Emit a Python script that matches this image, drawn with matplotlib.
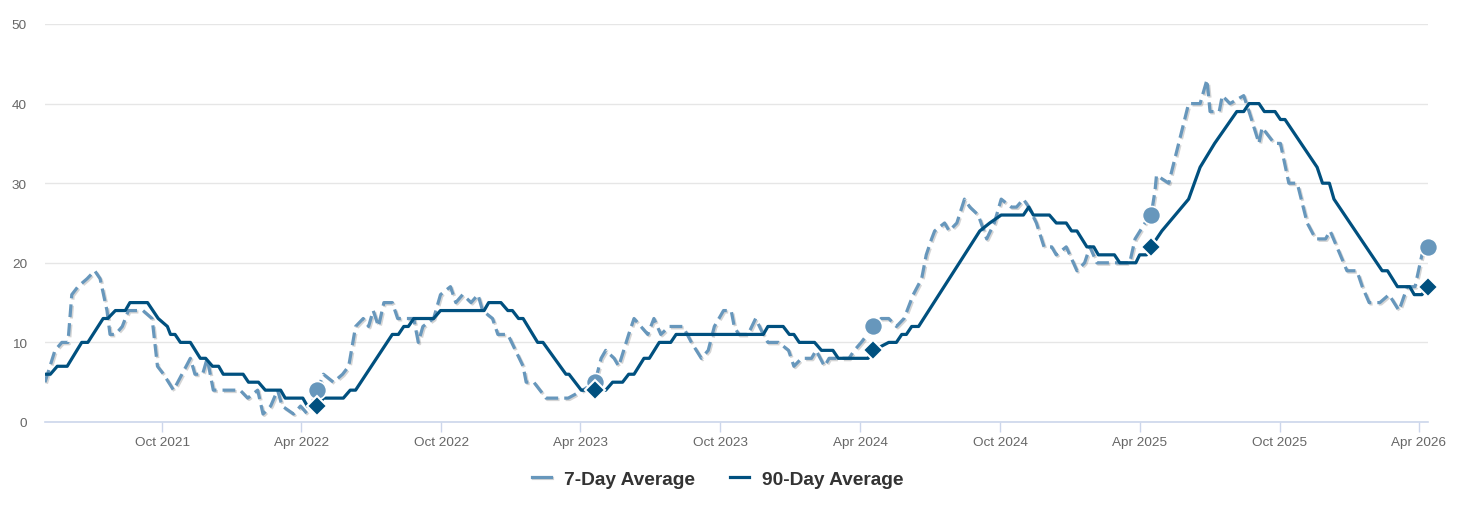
import matplotlib
matplotlib.use("Agg")
import matplotlib.pyplot as plt
import matplotlib.dates as mdates
import matplotlib.patheffects as pe
import pandas as pd

plt.rcParams['font.family'] = ['Liberation Sans', 'DejaVu Sans']

# days counted from START
START = pd.Timestamp('2021-05-01')

days_90 = [0, 7, 16, 29, 48, 56, 76, 82, 92, 105,
           111, 134, 148, 160, 164, 170, 177, 190, 203, 210,
           219, 227, 233, 259, 266, 279, 288, 308, 314, 337,
           343, 356, 364, 390, 399, 406, 454, 462, 469, 475,
           482, 508, 517, 574, 580, 596, 605, 611, 619, 625,
           644, 651, 681, 685, 701, 719, 733, 742, 755, 763,
           770, 783, 790, 803, 818, 825, 939, 945, 965, 973,
           979, 986, 1006, 1015, 1030, 1037, 1076, 1083, 1103, 1113,
           1120, 1126, 1133, 1142, 1222, 1235, 1250, 1279, 1286, 1292,
           1313, 1322, 1335, 1342, 1349, 1362, 1371, 1377, 1398, 1405,
           1426, 1431, 1440, 1446, 1460, 1495, 1510, 1529, 1558, 1567,
           1574, 1587, 1594, 1608, 1615, 1621, 1663, 1670, 1679, 1685,
           1748, 1755, 1768, 1784, 1790, 1800, 1808]
avg_90 = [6, 6, 7, 7, 10, 10, 13, 13, 14, 14,
          15, 15, 13, 12, 11, 11, 10, 10, 8, 8,
          7, 7, 6, 6, 5, 5, 4, 4, 3, 3,
          2, 2, 3, 3, 4, 4, 11, 11, 12, 12,
          13, 13, 14, 14, 15, 15, 14, 14, 13, 13,
          10, 10, 6, 6, 4, 4, 4, 5, 5, 6,
          6, 8, 8, 10, 10, 11, 11, 12, 12, 11,
          11, 10, 10, 9, 9, 8, 8, 9, 10, 10,
          11, 11, 12, 12, 24, 25, 26, 26, 27, 26,
          26, 25, 25, 24, 24, 22, 22, 21, 21, 20,
          20, 21, 21, 22, 24, 28, 32, 35, 39, 39,
          40, 40, 39, 39, 38, 38, 32, 30, 30, 28,
          19, 19, 17, 17, 16, 16, 17]

days_7 = [0, 13, 22, 30, 35, 43, 55, 65, 72, 81,
          85, 92, 101, 109, 120, 128, 140, 147, 155, 168,
          179, 190, 196, 206, 212, 220, 236, 255, 265, 278,
          285, 295, 304, 310, 325, 334, 343, 356, 364, 377,
          389, 397, 406, 416, 423, 429, 436, 443, 454, 461,
          482, 488, 494, 508, 517, 530, 537, 546, 557, 566,
          572, 585, 592, 605, 625, 629, 639, 655, 684, 703,
          719, 727, 733, 744, 750, 763, 770, 779, 788, 796,
          805, 816, 828, 834, 845, 858, 867, 875, 887, 897,
          901, 907, 919, 929, 939, 945, 959, 972, 979, 989,
          1002, 1008, 1019, 1025, 1051, 1058, 1067, 1083, 1093, 1103,
          1113, 1123, 1135, 1146, 1152, 1159, 1163, 1176, 1182, 1192,
          1202, 1209, 1220, 1231, 1241, 1250, 1263, 1270, 1279, 1286,
          1296, 1306, 1316, 1322, 1335, 1349, 1359, 1366, 1375, 1397,
          1418, 1425, 1438, 1446, 1451, 1453, 1469, 1495, 1510, 1519,
          1523, 1535, 1539, 1549, 1567, 1574, 1587, 1591, 1607, 1615,
          1626, 1637, 1650, 1661, 1674, 1680, 1702, 1715, 1722, 1731,
          1745, 1757, 1770, 1781, 1791, 1800, 1808]
avg_7 = [5, 9, 10, 10, 16, 17, 18, 19, 18, 14,
         11, 11, 12, 14, 14, 14, 13, 7, 6, 4,
         6, 8, 6, 6, 8, 4, 4, 4, 3, 4,
         1, 2, 4, 2, 1, 2, 1, 4, 6, 5,
         6, 7, 12, 13, 12, 14, 12, 15, 15, 13,
         13, 10, 12, 13, 16, 17, 15, 16, 15, 16,
         14, 13, 11, 11, 7, 5, 5, 3, 3, 4,
         5, 8, 9, 8, 7, 11, 13, 12, 11, 13,
         11, 12, 12, 12, 10, 8, 9, 12, 14, 14,
         12, 11, 11, 13, 11, 10, 10, 9, 7, 8,
         8, 9, 7, 8, 8, 9, 10, 12, 13, 13,
         12, 13, 16, 18, 21, 23, 24, 25, 24, 25,
         28, 27, 26, 23, 25, 28, 27, 27, 28, 27,
         25, 22, 22, 21, 22, 19, 20, 22, 20, 20,
         20, 23, 25, 26, 29, 31, 30, 40, 40, 43,
         39, 39, 41, 40, 41, 39, 35, 37, 35, 35,
         30, 30, 25, 23, 23, 24, 19, 19, 17, 15,
         15, 16, 14, 17, 17, 21, 22]

marker_days = [356, 719, 1083, 1446, 1808]
marker_7 = [4, 5, 12, 26, 22]
marker_90 = [2, 4, 9, 22, 17]

LIGHT = '#6797bc'
DARK = '#00507f'


def to_dates(days):
    return START + pd.to_timedelta(days, unit='D')


fig = plt.figure(figsize=(14.71, 5.10), dpi=100)
ax = fig.add_axes([0.0306, 0.1706, 0.9402, 0.7804])

ax.plot(to_dates(days_7), avg_7, color=LIGHT, lw=2.3, dashes=(4, 1.9),
        dash_capstyle='butt', label='7-Day Average', zorder=3,
        path_effects=[pe.SimpleLineShadow(offset=(1, -1), shadow_color='#555555',
                                          alpha=0.25),
                      pe.Normal()])
ax.plot(to_dates(days_90), avg_90, color=DARK, lw=2.3,
        solid_joinstyle='round', label='90-Day Average', zorder=4)

ax.plot(to_dates(marker_days), marker_7, 'o', color=LIGHT, ms=13,
        mec='white', mew=1.2, zorder=5, clip_on=False)
ax.plot(to_dates(marker_days), marker_90, 'D', color=DARK, ms=10,
        mec='white', mew=1.5, zorder=6, clip_on=False)

ax.set_ylim(0, 50)
ax.set_yticks(range(0, 51, 10))
ax.set_xlim(to_dates([0])[0], to_dates([1808])[0])
ax.xaxis.set_major_locator(mdates.MonthLocator(bymonth=[4, 10]))
ax.xaxis.set_major_formatter(mdates.DateFormatter('%b %Y'))

ax.grid(True, axis='y', color='#e6e6e6', lw=1)
ax.set_axisbelow(True)
for side in ['top', 'right', 'left']:
    ax.spines[side].set_visible(False)
ax.spines['bottom'].set_color('#ccd6eb')
ax.spines['bottom'].set_linewidth(1.2)
ax.tick_params(axis='y', length=0, pad=13, labelsize=9.7, labelcolor='#666666')
ax.tick_params(axis='x', length=7, width=1, color='#ccd6eb', pad=3,
               labelsize=9.7, labelcolor='#666666')

leg = fig.legend(loc='center', bbox_to_anchor=(0.488, 0.059), ncol=2,
                 frameon=False, handlelength=1.0, handletextpad=0.7,
                 columnspacing=1.8, prop={'weight': 'bold', 'size': 13.8})
leg.legend_handles[0].set_linestyle('-')
for t in leg.get_texts():
    t.set_color('#333333')

plt.savefig('out.png', dpi=100)
